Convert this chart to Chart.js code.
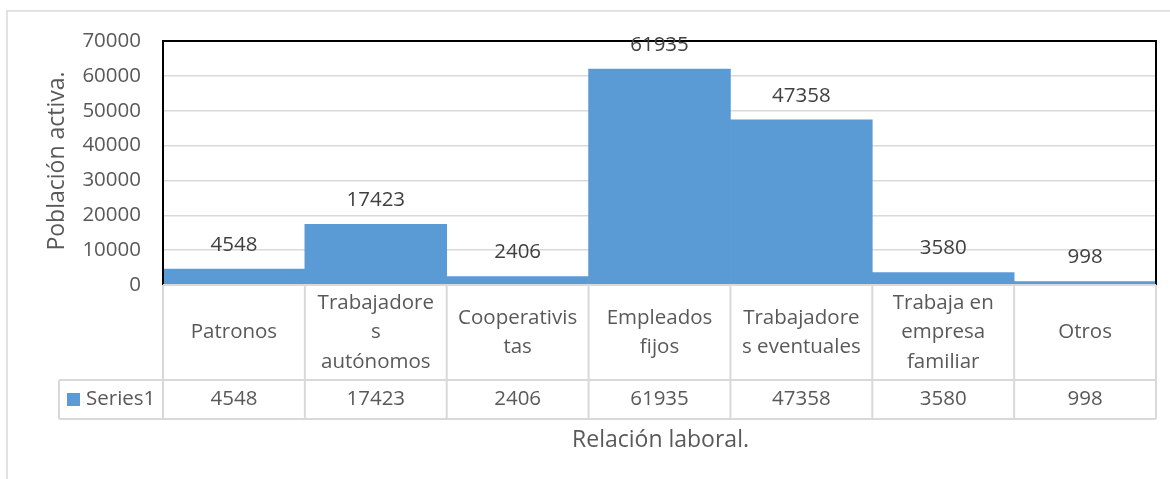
<!DOCTYPE html>
<html>
<head>
<meta charset="utf-8">
<script src="https://cdn.jsdelivr.net/npm/chart.js@4/dist/chart.umd.min.js"></script>
<style>
  body { margin: 0; background: #fff; }
  canvas { display: block; }
</style>
</head>
<body>
<canvas id="chart" width="1170" height="479"></canvas>
<script>
// data
const categories = [
  ["Patronos"],
  ["Trabajadore", "s", "autónomos"],
  ["Cooperativis", "tas"],
  ["Empleados", "fijos"],
  ["Trabajadore", "s eventuales"],
  ["Trabaja en", "empresa", "familiar"],
  ["Otros"]
];
const values = [4548, 17423, 2406, 61935, 47358, 3580, 998];
const seriesName = "Series1";
const yMin = 0, yMax = 70000, yStep = 10000;
const yTitle = "Población activa.";
const xTitle = "Relación laboral.";

const FONT = "'Open Sans', sans-serif";
const BLUE = "#5B9BD5";
const GRIDC = "#d9d9d9";

// draws labels, data table, titles and frame
const excelBits = {
  id: "excelBits",
  afterDraw(chart) {
    const ctx = chart.ctx;
    const area = chart.chartArea;
    const xs = chart.scales.x;
    const meta = chart.getDatasetMeta(0);
    const w = xs.getPixelForValue(1) - xs.getPixelForValue(0);

    ctx.save();
    // outer frame
    ctx.strokeStyle = GRIDC;
    ctx.lineWidth = 1.5;
    ctx.beginPath();
    ctx.moveTo(7, 479);
    ctx.lineTo(7, 11);
    ctx.lineTo(1170, 11);
    ctx.stroke();

    // plot border
    ctx.strokeStyle = "#000";
    ctx.lineWidth = 2;
    ctx.beginPath();
    ctx.moveTo(area.left, area.bottom);
    ctx.lineTo(area.left, area.top);
    ctx.lineTo(area.right, area.top);
    ctx.lineTo(area.right, area.bottom);
    ctx.stroke();

    // value labels above bars
    ctx.font = "20.5px " + FONT;
    ctx.fillStyle = "#404040";
    ctx.textAlign = "center";
    ctx.textBaseline = "middle";
    meta.data.forEach((bar, i) => {
      ctx.fillText(String(values[i]), bar.x, bar.y - 24);
    });

    // data table
    const top = area.bottom;
    const mid = top + 95;
    const bot = mid + 39;
    const legLeft = 59;
    ctx.strokeStyle = GRIDC;
    ctx.lineWidth = 2;
    ctx.beginPath();
    ctx.moveTo(area.left, top); ctx.lineTo(area.right, top);
    ctx.moveTo(legLeft, mid); ctx.lineTo(area.right, mid);
    ctx.moveTo(legLeft, bot); ctx.lineTo(area.right, bot);
    ctx.moveTo(legLeft, mid); ctx.lineTo(legLeft, bot);
    for (let i = 0; i <= categories.length; i++) {
      const x = i < categories.length ? xs.getPixelForValue(i) - w / 2 : xs.getPixelForValue(i - 1) + w / 2;
      ctx.moveTo(x, top); ctx.lineTo(x, bot);
    }
    ctx.stroke();

    ctx.fillStyle = "#595959";
    const lh = 29.5;
    categories.forEach((lines, i) => {
      const cx = xs.getPixelForValue(i);
      const cy = (top + mid) / 2;
      lines.forEach((t, k) => {
        ctx.fillText(t, cx, cy + (k - (lines.length - 1) / 2) * lh);
      });
      ctx.fillText(String(values[i]), cx, (mid + bot) / 2);
    });

    // legend key
    ctx.fillStyle = BLUE;
    ctx.fillRect(67, (mid + bot) / 2 - 6.5, 13, 13);
    ctx.fillStyle = "#595959";
    ctx.textAlign = "left";
    ctx.fillText(seriesName, 86, (mid + bot) / 2);

    // axis titles
    ctx.font = "23px " + FONT;
    ctx.textAlign = "center";
    ctx.fillText(xTitle, (area.left + area.right) / 2 + 1, 440);
    ctx.translate(57, 161);
    ctx.rotate(-Math.PI / 2);
    ctx.fillText(yTitle, 0, 0);
    ctx.restore();
  }
};

new Chart(document.getElementById("chart"), {
  type: "bar",
  data: {
    labels: categories,
    datasets: [{
      label: seriesName,
      data: values,
      backgroundColor: BLUE,
      borderWidth: 0,
      barPercentage: 1,
      categoryPercentage: 1
    }]
  },
  options: {
    responsive: false,
    animation: false,
    layout: { padding: { top: 41, bottom: 194, right: 14, left: 0 } },
    plugins: { legend: { display: false }, tooltip: { enabled: false } },
    scales: {
      x: { display: false },
      y: {
        min: yMin,
        max: yMax,
        afterFit(scale) { scale.width = 163; },
        ticks: {
          stepSize: yStep,
          color: "#595959",
          font: { family: FONT, size: 20.5 },
          padding: 22,
          callback: (v) => String(v)
        },
        grid: { color: GRIDC, lineWidth: 1.5, drawTicks: false },
        border: { display: false }
      }
    }
  },
  plugins: [excelBits]
});
</script>
</body>
</html>
